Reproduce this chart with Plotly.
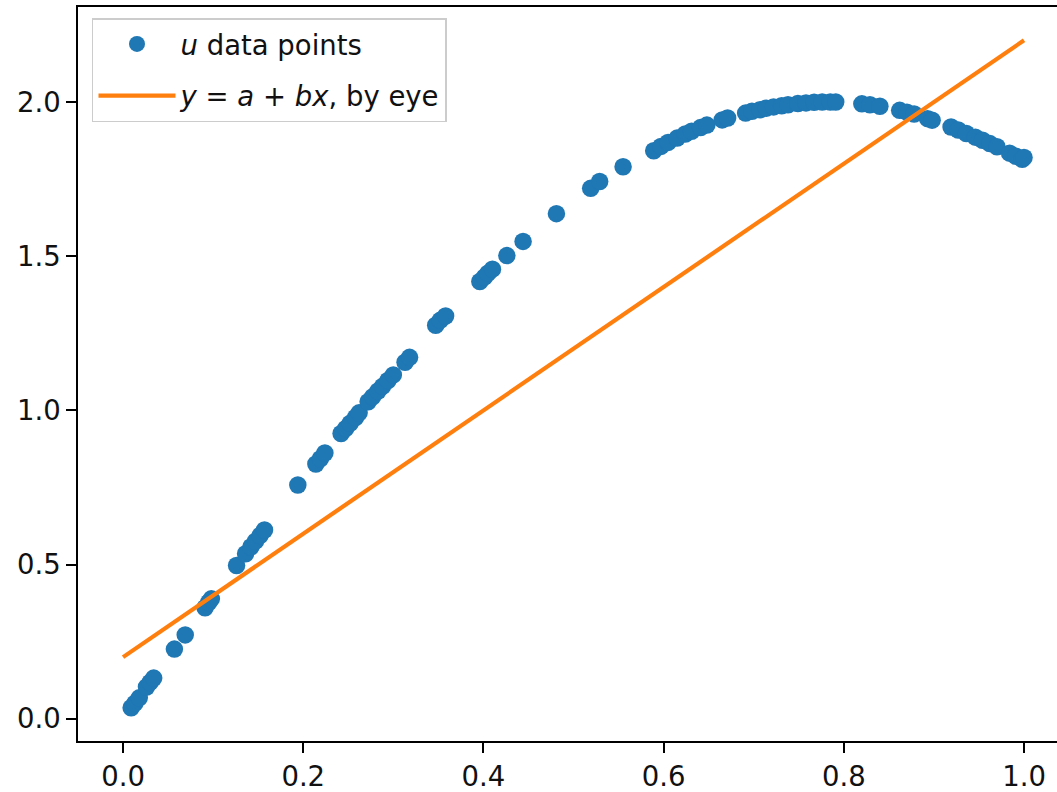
import plotly.graph_objects as go

# u data points
x_data = [0.009, 0.013, 0.018, 0.026, 0.030, 0.034, 0.057, 0.069, 0.091, 0.095,
          0.098, 0.126, 0.136, 0.142, 0.147, 0.152, 0.157, 0.194, 0.214, 0.219,
          0.224, 0.242, 0.247, 0.252, 0.258, 0.262, 0.272, 0.277, 0.283, 0.288,
          0.294, 0.300, 0.313, 0.318, 0.347, 0.352, 0.358, 0.396, 0.401, 0.405,
          0.410, 0.426, 0.444, 0.481, 0.519, 0.529, 0.555, 0.589, 0.597, 0.605,
          0.615, 0.624, 0.631, 0.641, 0.648, 0.665, 0.671, 0.691, 0.698, 0.707,
          0.714, 0.722, 0.731, 0.738, 0.749, 0.758, 0.767, 0.776, 0.785, 0.791,
          0.820, 0.829, 0.840, 0.862, 0.870, 0.878, 0.893, 0.898, 0.919, 0.927,
          0.936, 0.946, 0.954, 0.962, 0.970, 0.984, 0.991, 0.998, 1.000]
u_data = [0.036, 0.050, 0.068, 0.103, 0.118, 0.132, 0.226, 0.272, 0.360, 0.377,
          0.389, 0.497, 0.535, 0.558, 0.576, 0.594, 0.612, 0.758, 0.826, 0.843,
          0.862, 0.925, 0.941, 0.958, 0.977, 0.992, 1.028, 1.044, 1.063, 1.078,
          1.097, 1.115, 1.156, 1.172, 1.276, 1.292, 1.306, 1.418, 1.432, 1.445,
          1.458, 1.502, 1.548, 1.638, 1.720, 1.742, 1.790, 1.842, 1.856, 1.869,
          1.883, 1.896, 1.905, 1.917, 1.925, 1.942, 1.948, 1.964, 1.970, 1.975,
          1.980, 1.984, 1.988, 1.991, 1.995, 1.997, 1.999, 2.000, 2.000, 2.000,
          1.994, 1.991, 1.986, 1.973, 1.967, 1.961, 1.946, 1.941, 1.919, 1.909,
          1.898, 1.886, 1.876, 1.865, 1.855, 1.834, 1.824, 1.814, 1.820]

# by-eye line y = a + b x
line_x = [0.0, 1.0]
line_y = [0.2, 2.2]

x_ticks = [0.0, 0.2, 0.4, 0.6, 0.8, 1.0]
x_tick_labels = ["0.0", "0.2", "0.4", "0.6", "0.8", "1.0"]
y_ticks = [0.0, 0.5, 1.0, 1.5, 2.0]
y_tick_labels = ["0.0", "0.5", "1.0", "1.5", "2.0"]

FONT = "DejaVu Sans"
FS = 27.5

fig = go.Figure()
fig.add_trace(go.Scatter(
    x=x_data, y=u_data, mode="markers",
    name="<i>u</i> data points", legendgroup="g1",
    marker=dict(color="#1f77b4", size=17.5, line=dict(width=0)),
))
fig.add_trace(go.Scatter(
    x=line_x, y=line_y, mode="lines",
    name="<i>y</i> = <i>a</i> + <i>bx</i>, by eye", legendgroup="g2",
    line=dict(color="#ff7f0e", width=4.2),
))

axis_common = dict(
    showgrid=False, zeroline=False, showline=True, linecolor="black",
    linewidth=2.2, ticks="outside", ticklen=9.7, tickwidth=2.2,
    tickcolor="black", tickfont=dict(family=FONT, size=FS, color="#111111"),
)

fig.update_layout(
    width=1057, height=792,
    margin=dict(l=78, r=0, t=7, b=45),
    paper_bgcolor="white", plot_bgcolor="white",
    font=dict(family=FONT, size=FS, color="black"),
    xaxis=dict(range=[-0.05, 1.0366], tickvals=x_ticks, ticktext=x_tick_labels,
               mirror=True, **axis_common),
    yaxis=dict(range=[-0.072, 2.308], tickvals=y_ticks, ticktext=y_tick_labels,
               **axis_common),
    legend=dict(x=0.0143, y=0.985, xanchor="left", yanchor="top",
                bgcolor="rgba(255,255,255,0.8)", bordercolor="#cccccc",
                borderwidth=1.5, itemwidth=77, traceorder="grouped",
                tracegroupgap=13,
                font=dict(family=FONT, size=FS, color="#111111")),
    showlegend=True,
)

fig.write_html("out.html")
